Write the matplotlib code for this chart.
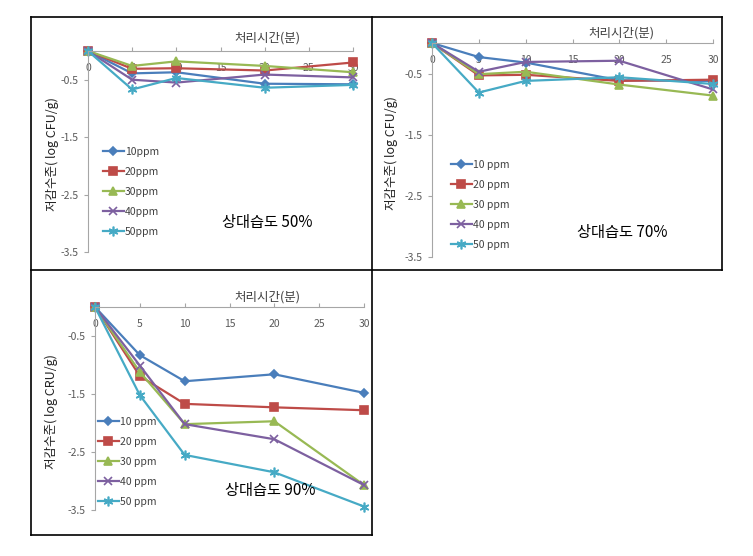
import numpy as np
import matplotlib.pyplot as plt
from matplotlib.lines import Line2D

plt.rcParams['font.family'] = ['Noto Sans CJK KR', 'DejaVu Sans']

# --- data ---
times = [0, 5, 10, 20, 30]
series_names = ['10ppm', '20ppm', '30ppm', '40ppm', '50ppm']

rh50 = {
    '10ppm': [0, -0.39, -0.37, -0.57, -0.58],
    '20ppm': [0, -0.31, -0.30, -0.34, -0.20],
    '30ppm': [0, -0.26, -0.18, -0.26, -0.37],
    '40ppm': [0, -0.50, -0.55, -0.41, -0.46],
    '50ppm': [0, -0.67, -0.47, -0.64, -0.59],
}
rh70 = {
    '10ppm': [0, -0.23, -0.32, -0.61, -0.62],
    '20ppm': [0, -0.53, -0.52, -0.62, -0.60],
    '30ppm': [0, -0.51, -0.47, -0.68, -0.86],
    '40ppm': [0, -0.47, -0.31, -0.29, -0.76],
    '50ppm': [0, -0.81, -0.62, -0.56, -0.67],
}
rh90 = {
    '10ppm': [0, -0.83, -1.28, -1.16, -1.48],
    '20ppm': [0, -1.19, -1.67, -1.73, -1.78],
    '30ppm': [0, -1.12, -2.02, -1.97, -3.07],
    '40ppm': [0, -1.01, -2.02, -2.28, -3.07],
    '50ppm': [0, -1.52, -2.55, -2.85, -3.44],
}
yticks = [-0.5, -1.5, -2.5, -3.5]
xticks = [0, 5, 10, 15, 20, 25, 30]

colors = ['#4a7ebb', '#be4b48', '#98b954', '#7d60a0', '#46aac5']
markers = ['D', 's', '^', 'x', (6, 2, 0)]
msizes = [4, 5.5, 5.5, 6, 7]

W, H = 753, 556
fig = plt.figure(figsize=(W / 100, H / 100), dpi=100)


def px_axes(x0, y0, x1, y1):
    return fig.add_axes([x0 / W, 1 - y1 / H, (x1 - x0) / W, (y1 - y0) / H])


def draw_panel(box, data, rh_text, ylab, legend_xy, legend_labels, note_xy, xlab_xy, ylab_x):
    ax = px_axes(*box)
    for i, name in enumerate(series_names):
        ax.plot(times, data[name], color=colors[i], lw=1.6, marker=markers[i],
                ms=msizes[i], mew=1.2, clip_on=False, label=legend_labels[i])
    ax.set_xlim(0, 30)
    ax.set_ylim(-3.5, 0)
    for s in ['right', 'bottom']:
        ax.spines[s].set_visible(False)
    for s in ['top', 'left']:
        ax.spines[s].set_color('#a6a6a6')
        ax.spines[s].set_linewidth(0.8)
    ax.set_xticks(xticks)
    ax.set_yticks(yticks)
    ax.set_yticklabels([str(v) for v in yticks])
    ax.tick_params(axis='x', top=True, bottom=False, labeltop=True, labelbottom=False,
                   direction='out', length=3, pad=-19, colors='#a6a6a6',
                   labelcolor='#595959', labelsize=7.5)
    ax.tick_params(axis='y', direction='out', length=3, pad=4, colors='#a6a6a6',
                   labelcolor='#595959', labelsize=7.5)
    ax.patch.set_alpha(0)

    fig.text(xlab_xy[0] / W, 1 - xlab_xy[1] / H, '처리시간(분)', ha='center', va='center',
             fontsize=9, color='#404040')
    fig.text(ylab_x / W, 1 - (box[1] + box[3]) / 2 / H - 0.005, ylab, ha='center', va='center',
             rotation=90, fontsize=9, color='#222222')
    fig.text(note_xy[0] / W, 1 - note_xy[1] / H, rh_text, ha='center', va='center',
             fontsize=11, color='black')
    ax.legend(loc='upper left', bbox_to_anchor=(legend_xy[0] / W, 1 - legend_xy[1] / H),
              bbox_transform=fig.transFigure, frameon=False, fontsize=7.5,
              handlelength=2.0, handletextpad=0.1, labelspacing=0.95, borderpad=0,
              borderaxespad=0, labelcolor='#404040')
    return ax


draw_panel((88, 51, 353, 252), rh50, '상대습도 50%', '저감수준( log CFU/g)',
           (103, 147), series_names, (267, 222), (267, 38), 52)
draw_panel((432, 43, 713, 257), rh70, '상대습도 70%', '저감수준( log CFU/g)',
           (451, 160), [n.replace('ppm', ' ppm') for n in series_names], (622, 232), (621, 33), 391)
draw_panel((95, 307, 364, 510), rh90, '상대습도 90%', '저감수준( log CRU/g)',
           (98, 417), [n.replace('ppm', ' ppm') for n in series_names], (270, 491), (267, 297), 51)

# table borders
def hline(y, x0, x1):
    fig.add_artist(Line2D([x0 / W, x1 / W], [1 - y / H, 1 - y / H], color='black', lw=1.2))


def vline(x, y0, y1):
    fig.add_artist(Line2D([x / W, x / W], [1 - y0 / H, 1 - y1 / H], color='black', lw=1.2))


hline(17, 31, 722)
hline(270, 31, 722)
hline(535, 31, 372)
vline(31, 17, 535)
vline(372, 17, 535)
vline(722, 17, 270)

fig.savefig('out.png', dpi=100)
